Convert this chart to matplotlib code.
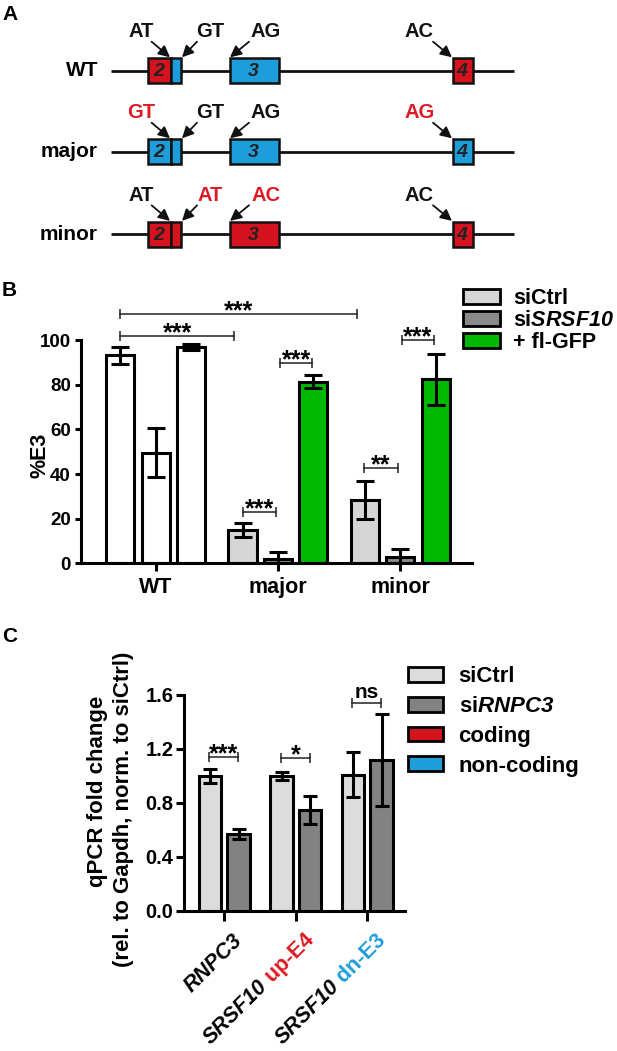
import matplotlib
matplotlib.use("Agg")
import matplotlib.pyplot as plt
import matplotlib.transforms as mtransforms
from matplotlib.patches import Rectangle, Patch
import numpy as np

plt.rcParams["font.family"] = ["Liberation Sans", "DejaVu Sans"]
plt.rcParams["font.weight"] = "bold"
# math text is only used for the italic gene names in the legends
plt.rcParams["mathtext.fontset"] = "custom"
plt.rcParams["mathtext.rm"] = "Liberation Sans:italic:bold"
plt.rcParams["mathtext.it"] = "Liberation Sans:italic:bold"
plt.rcParams["mathtext.bf"] = "Liberation Sans:italic:bold"

RED = "#d5131e"
BLUE = "#1d9edb"
TXT_RED = "#de1a24"
LIGHT = "#d6d6d6"
DARK = "#8a8a8a"
GREEN = "#00b800"

W, H, DPI = 617, 1051, 100

# ---------------- panel A: splice-site schematic (pixel-like units) ----------------
row_names = ["WT", "major", "minor"]
row_y = [70.7, 151.7, 234.3]
intron_x = [111, 514]
exon_left = [148, 171, 229.5, 453]
exon_right = [171, 180.5, 279, 472.5]
exon_numbers = ["2", "", "3", "4"]
exon_fill = {
    "WT": ["r", "b", "b", "r"],
    "major": ["b", "b", "b", "b"],
    "minor": ["r", "r", "r", "r"],
}
site_x = [141, 210.6, 265.7, 419.3]
site_labels = {
    "WT": ["AT", "GT", "AG", "AC"],
    "major": ["GT", "GT", "AG", "AG"],
    "minor": ["AT", "AT", "AC", "AC"],
}
site_is_red = {
    "WT": [0, 0, 0, 0],
    "major": [1, 0, 0, 1],
    "minor": [0, 1, 1, 0],
}
arrow_from_x = [151.6, 197, 249, 433]
arrow_to_x = [170, 182, 230, 452]

# ---------------- panel B: %E3 ----------------
groups_b = ["WT", "major", "minor"]
e3_ctrl = [93.2, 15.0, 28.5]
e3_ctrl_err = [3.8, 3.2, 8.5]
e3_si = [49.5, 2.0, 2.7]
e3_si_err = [11.0, 3.0, 3.8]
e3_gfp = [97.0, 81.5, 82.5]
e3_gfp_err = [1.3, 2.8, 11.5]
legend_b = ["siCtrl", r"si$\mathrm{SRSF10}$", "+ fl-GFP"]
# (x1, x2, y, label)
brackets_b = [
    (-0.29, 1.65, 111.8, "***"),
    (-0.29, 0.64, 101.9, "***"),
    (1.016, 1.282, 89.8, "***"),
    (0.71, 0.984, 23.1, "***"),
    (1.706, 1.98, 42.9, "**"),
    (2.013, 2.278, 100.1, "***"),
]

# ---------------- panel C: qPCR ----------------
genes_c = ["RNPC3", "SRSF10 up-E4", "SRSF10 dn-E3"]
fc_ctrl = [1.0, 1.0, 1.01]
fc_ctrl_err = [0.055, 0.028, 0.165]
fc_si = [0.57, 0.75, 1.12]
fc_si_err = [0.04, 0.105, 0.34]
legend_c = ["siCtrl", r"si$\mathrm{RNPC3}$", "coding", "non-coding"]
brackets_c = [
    (-0.214, 0.196, 1.143, "***"),
    (0.793, 1.199, 1.136, "*"),
    (1.79, 2.187, 1.543, "ns"),
]
xlabel_parts = [
    [("RNPC3", "black", "italic")],
    [("SRSF10", "black", "italic"), (" up-E4", TXT_RED, "normal")],
    [("SRSF10", "black", "italic"), (" dn-E3", BLUE, "normal")],
]

fig = plt.figure(figsize=(W / DPI, H / DPI), dpi=DPI)


def fig_rect(x0, y0, x1, y1):
    return [x0 / W, 1 - y1 / H, (x1 - x0) / W, (y1 - y0) / H]


for lab, yy in zip(["A", "B", "C"], [15, 290, 637]):
    fig.text(2 / W, 1 - yy / H, lab, fontsize=15, fontweight="bold", va="center", ha="left")

# ---- A ----
axa = fig.add_axes([0, 1 - 300 / H, 1, 300 / H])
axa.set_xlim(0, W)
axa.set_ylim(300, 0)
axa.axis("off")
cmap = {"r": RED, "b": BLUE}
for name, y in zip(row_names, row_y):
    axa.plot(intron_x, [y, y], color="#111111", lw=2.0, zorder=1, solid_capstyle="butt")
    for x0, x1, c, num in zip(exon_left, exon_right, exon_fill[name], exon_numbers):
        axa.add_patch(Rectangle((x0, y - 12.5), x1 - x0, 25, facecolor=cmap[c],
                                edgecolor="#111111", lw=1.8, zorder=2))
        if num:
            axa.text((x0 + x1) / 2 - 0.5, y + 1, num, fontsize=14, fontstyle="italic",
                     fontweight="bold", color="#222222", ha="center", va="center", zorder=3)
    axa.text(98, y, name, fontsize=15, ha="right", va="center")
    ly = y - 39
    for sx, lab, red, ax0, ax1 in zip(site_x, site_labels[name], site_is_red[name],
                                      arrow_from_x, arrow_to_x):
        axa.text(sx, ly, lab, fontsize=14.5, ha="center", va="center",
                 color=TXT_RED if red else "#111111")
        axa.annotate("", xy=(ax1, y - 13.4), xytext=(ax0, ly + 10),
                     arrowprops=dict(arrowstyle="-|>", color="#111111", lw=1.3,
                                     mutation_scale=17, shrinkA=0, shrinkB=0))


def style_axes(ax):
    for s in ("top", "right"):
        ax.spines[s].set_visible(False)
    for s in ("left", "bottom"):
        ax.spines[s].set_linewidth(2.2)


def add_bracket(ax, x1, x2, y, label, fs, dy_pt):
    ax.plot([x1, x2], [y, y], color="#222222", lw=1.1, clip_on=False,
            marker="|", markersize=7.5, markeredgewidth=1.1)
    ax.annotate(label, xy=((x1 + x2) / 2, y), xytext=(0, dy_pt), textcoords="offset points",
                ha="center", va="baseline", fontsize=fs, annotation_clip=False)


# ---- B ----
axb = fig.add_axes(fig_rect(81, 340.3, 472, 563.3))
xb = np.arange(len(groups_b))
off, bw = 0.29, 0.23
ekw = dict(lw=2.2, capsize=6.4, capthick=2.2, ecolor="black")
ctrl_cols = ["white", LIGHT, LIGHT]
si_cols = ["white", DARK, DARK]
gfp_cols = ["white", GREEN, GREEN]
for dx, vals, errs, cols in [(-off, e3_ctrl, e3_ctrl_err, ctrl_cols),
                             (0, e3_si, e3_si_err, si_cols),
                             (off, e3_gfp, e3_gfp_err, gfp_cols)]:
    axb.bar(xb + dx, vals, bw, color=cols, edgecolor="black", lw=2.2,
            yerr=errs, error_kw=ekw)
axb.set_xlim(-0.612, 2.588)
axb.set_ylim(0, 100)
axb.set_yticks([0, 20, 40, 60, 80, 100])
axb.set_xticks(xb)
axb.set_xticklabels(groups_b)
style_axes(axb)
axb.tick_params(axis="y", length=4.3, width=2.2, pad=3, labelsize=13.5)
axb.tick_params(axis="x", length=6, width=2.2, pad=4, labelsize=15.5)
axb.text(-0.105, 0.486, "%E3", transform=axb.transAxes, rotation=90,
         ha="center", va="center", fontsize=15.5)
for x1, x2, y, lab in brackets_b:
    add_bracket(axb, x1, x2, y, lab, 18, -3.4)
hb = [Patch(facecolor=c, edgecolor="black", lw=2.0) for c in (LIGHT, DARK, GREEN)]
fig.legend(hb, legend_b, loc="upper left", bbox_to_anchor=(463 / W, 1 - 288 / H),
           frameon=False, fontsize=15.5, handlelength=1.72, handleheight=0.7,
           handletextpad=0.6, labelspacing=0.05, borderpad=0, borderaxespad=0)

# ---- C ----
axc = fig.add_axes(fig_rect(184, 695, 404.7, 911))
xc = np.arange(len(genes_c))
offc, bwc = 0.2, 0.315
ekw_c = dict(lw=2.2, capsize=5, capthick=2.2, ecolor="black")
axc.bar(xc - offc, fc_ctrl, bwc, color="#dcdcdc", edgecolor="black", lw=2.2,
        yerr=fc_ctrl_err, error_kw=ekw_c)
axc.bar(xc + offc, fc_si, bwc, color="#828282", edgecolor="black", lw=2.2,
        yerr=fc_si_err, error_kw=ekw_c)
axc.set_xlim(-0.564, 2.523)
axc.set_ylim(0, 1.6)
axc.set_yticks([0, 0.4, 0.8, 1.2, 1.6])
axc.set_yticklabels([f"{v:.1f}" for v in [0, 0.4, 0.8, 1.2, 1.6]])
axc.set_xticks(xc)
axc.set_xticklabels([""] * len(xc))
style_axes(axc)
axc.tick_params(axis="y", length=6, width=2.2, pad=1.5, labelsize=14.5)
axc.tick_params(axis="x", length=7, width=2.2)
for x1, x2, y, lab in brackets_c:
    if lab == "ns":
        add_bracket(axc, x1, x2, y, lab, 15, 3.3)
    else:
        add_bracket(axc, x1, x2, y, lab, 18, -3.4)

fig.text(98 / W, 1 - 791 / H, "qPCR fold change", rotation=90, ha="center",
         va="center", fontsize=16)
fig.text(123 / W, 1 - 809 / H, "(rel. to Gapdh, norm. to siCtrl)", rotation=90,
         ha="center", va="center", fontsize=16)

# rotated two-colour tick labels, laid out right to left along the 45 degree line
renderer = fig.canvas.get_renderer()
ang = np.deg2rad(45)
for x, parts in zip(xc, xlabel_parts):
    offset = 0.0
    for text, color, style in reversed(parts):
        ox = 8 - offset * np.cos(ang)
        oy = -19 - offset * np.sin(ang)
        tr = axc.get_xaxis_transform() + mtransforms.ScaledTranslation(
            ox / DPI, oy / DPI, fig.dpi_scale_trans)
        axc.text(x, 0, text, transform=tr, rotation=45, rotation_mode="anchor",
                 ha="right", va="top", color=color, fontstyle=style, fontsize=15.5)
        tmp = fig.text(0, 0, text, fontsize=15.5, fontstyle=style)
        offset += tmp.get_window_extent(renderer).width
        tmp.remove()

hc = [Patch(facecolor=c, edgecolor="black", lw=2.0) for c in ("#dcdcdc", "#828282", RED, BLUE)]
fig.legend(hc, legend_c, loc="upper left", bbox_to_anchor=(407.5 / W, 1 - 666 / H),
           frameon=False, fontsize=16, handlelength=1.6, handleheight=0.65,
           handletextpad=0.7, labelspacing=0.4, borderpad=0, borderaxespad=0)

fig.savefig("out.png", dpi=DPI)
